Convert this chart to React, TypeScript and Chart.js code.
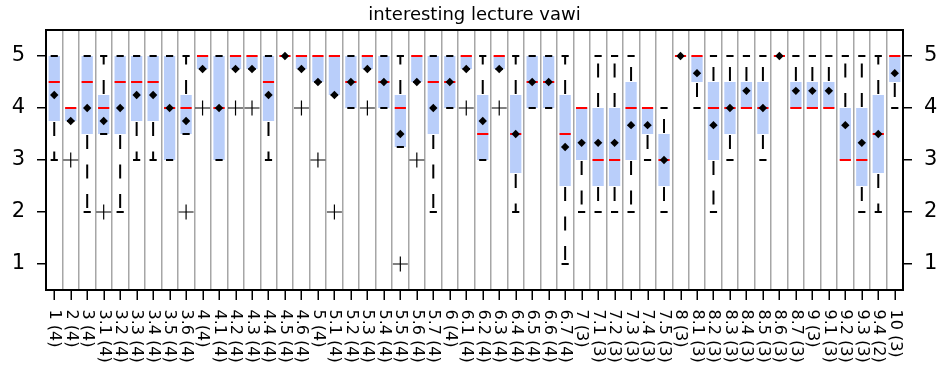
import React, { useEffect, useRef } from 'react';
import { Chart, registerables } from 'chart.js';

Chart.register(...registerables);

const TITLE = 'interesting lecture vawi';

const categories = [
  '1 (4)', '2 (4)', '3 (4)', '3.1 (4)', '3.2 (4)', '3.3 (4)', '3.4 (4)', '3.5 (4)', '3.6 (4)',
  '4 (4)', '4.1 (4)', '4.2 (4)', '4.3 (4)', '4.4 (4)', '4.5 (4)', '4.6 (4)',
  '5 (4)', '5.1 (4)', '5.2 (4)', '5.3 (4)', '5.4 (4)', '5.5 (4)', '5.6 (4)', '5.7 (4)',
  '6 (4)', '6.1 (4)', '6.2 (4)', '6.3 (4)', '6.4 (4)', '6.5 (4)', '6.6 (4)', '6.7 (4)',
  '7 (3)', '7.1 (3)', '7.2 (3)', '7.3 (3)', '7.4 (3)', '7.5 (3)',
  '8 (3)', '8.1 (3)', '8.2 (3)', '8.3 (3)', '8.4 (3)', '8.5 (3)', '8.6 (3)', '8.7 (3)',
  '9 (3)', '9.1 (3)', '9.2 (3)', '9.3 (3)', '9.4 (2)', '10 (3)',
];

const q1 = [
  3.75, 3.75, 3.5, 3.5, 3.5, 3.75, 3.75, 3, 3.5,
  4.75, 3, 4.75, 4.75, 3.75, 5, 4.75,
  4.5, 4.25, 4, 4.75, 4, 3.25, 4.5, 3.5,
  4, 4.75, 3, 4.75, 2.75, 4, 4, 2.5,
  3, 2.5, 2.5, 3, 3.5, 2.5,
  5, 4.5, 3, 3.5, 4, 3.5, 5, 4,
  4, 4, 3, 2.5, 2.75, 4.5,
];

const medians = [
  4.5, 4, 4.5, 4, 4.5, 4.5, 4.5, 4, 4,
  5, 4, 5, 5, 4.5, 5, 5,
  5, 5, 4.5, 5, 4.5, 4, 5, 4.5,
  4.5, 5, 3.5, 5, 3.5, 4.5, 4.5, 3.5,
  4, 3, 3, 4, 4, 3,
  5, 5, 4, 4, 4, 4, 5, 4,
  4, 4, 3, 3, 3.5, 5,
];

const q3 = [
  5, 4, 5, 4.25, 5, 5, 5, 5, 4.25,
  5, 5, 5, 5, 5, 5, 5,
  5, 5, 5, 5, 5, 4.25, 5, 5,
  5, 5, 4.25, 5, 4.25, 5, 5, 4.25,
  4, 4, 4, 4.5, 4, 3.5,
  5, 5, 4.5, 4.5, 4.5, 4.5, 5, 4.5,
  4.5, 4.5, 4, 4, 4.25, 5,
];

const whiskerLow = [
  3, 3.75, 2, 3.5, 2, 3, 3, 3, 3.5,
  4.75, 3, 4.75, 4.75, 3, 5, 4.75,
  4.5, 4.25, 4, 4.75, 4, 3.25, 4.5, 2,
  4, 4.75, 3, 4.75, 2, 4, 4, 1,
  2, 2, 2, 2, 3, 2,
  5, 4, 2, 3, 4, 3, 5, 4,
  4, 4, 3, 2, 2, 4,
];

const whiskerHigh = [
  5, 4, 5, 5, 5, 5, 5, 5, 5,
  5, 5, 5, 5, 5, 5, 5,
  5, 5, 5, 5, 5, 5, 5, 5,
  5, 5, 5, 5, 5, 5, 5, 5,
  4, 5, 5, 5, 4, 4,
  5, 5, 5, 5, 5, 5, 5, 5,
  5, 5, 5, 5, 5, 5,
];

const means = [
  4.25, 3.75, 4, 3.75, 4, 4.25, 4.25, 4, 3.75,
  4.75, 4, 4.75, 4.75, 4.25, 5, 4.75,
  4.5, 4.25, 4.5, 4.75, 4.5, 3.5, 4.5, 4,
  4.5, 4.75, 3.75, 4.75, 3.5, 4.5, 4.5, 3.25,
  3.33, 3.33, 3.33, 3.67, 3.67, 3,
  5, 4.67, 3.67, 4, 4.33, 4, 5, 4.33,
  4.33, 4.33, 3.67, 3.33, 3.5, 4.67,
];

const outlierCategories = [
  '2 (4)', '3.1 (4)', '3.6 (4)', '4 (4)', '4.2 (4)', '4.3 (4)', '4.6 (4)',
  '5 (4)', '5.1 (4)', '5.3 (4)', '5.5 (4)', '5.6 (4)', '6.1 (4)', '6.3 (4)',
];
const outlierValues = [3, 2, 2, 4, 4, 4, 4, 3, 2, 4, 1, 3, 4, 4];

const yTicks = [1, 2, 3, 4, 5];

const FONT = '"DejaVu Sans", sans-serif';
const BOX_COLOR = 'rgb(185, 206, 250)';

const extrasPlugin = {
  id: 'boxExtras',
  afterDatasetDraw(chart: any, args: any) {
    if (args.index !== 0) return;
    const { ctx } = chart;
    const x = chart.scales.x;
    const y = chart.scales.y;
    ctx.save();
    ctx.strokeStyle = '#000';
    ctx.lineWidth = 2;
    ctx.lineCap = 'butt';
    categories.forEach((_, i) => {
      const px = x.getPixelForValue(i);
      const whisker = (from: number, to: number) => {
        if (from === to) return;
        ctx.setLineDash([14, 15.5]);
        ctx.lineDashOffset = -1;
        ctx.beginPath();
        ctx.moveTo(px, y.getPixelForValue(from));
        ctx.lineTo(px, y.getPixelForValue(to));
        ctx.stroke();
      };
      whisker(q1[i], whiskerLow[i]);
      whisker(q3[i], whiskerHigh[i]);
      ctx.setLineDash([]);
      [whiskerLow[i], whiskerHigh[i]].forEach((v) => {
        const py = y.getPixelForValue(v);
        ctx.beginPath();
        ctx.moveTo(px - 3.6, py);
        ctx.lineTo(px + 3.6, py);
        ctx.stroke();
      });
    });
    ctx.restore();
  },
  afterDraw(chart: any) {
    const { ctx, chartArea: a } = chart;
    const x = chart.scales.x;
    ctx.save();
    // frame
    ctx.strokeStyle = '#000';
    ctx.lineWidth = 2;
    ctx.strokeRect(a.left, a.top, a.right - a.left, a.bottom - a.top);
    // x tick marks
    ctx.lineWidth = 1.5;
    categories.forEach((_, i) => {
      const px = Math.round(x.getPixelForValue(i)) + 0.25;
      ctx.beginPath();
      ctx.moveTo(px, a.bottom + 1);
      ctx.lineTo(px, a.bottom + 10);
      ctx.stroke();
    });
    // x labels (rotated, reading downward)
    ctx.fillStyle = '#000';
    ctx.font = `16px ${FONT}`;
    ctx.textAlign = 'left';
    ctx.textBaseline = 'middle';
    categories.forEach((lab, i) => {
      const px = x.getPixelForValue(i);
      ctx.save();
      ctx.translate(px, a.bottom + 19.5);
      ctx.rotate(Math.PI / 2);
      ctx.fillText(lab, 0, 0);
      ctx.restore();
    });
    // title
    ctx.font = `18px ${FONT}`;
    ctx.textAlign = 'center';
    ctx.textBaseline = 'alphabetic';
    ctx.fillText(TITLE, (a.left + a.right) / 2, 20);
    ctx.restore();
  },
};

export default function App() {
  const canvasRef = useRef<HTMLCanvasElement | null>(null);

  useEffect(() => {
    const canvas = canvasRef.current;
    if (!canvas) return;

    const yAxisCommon = {
      type: 'linear' as const,
      min: 0.5,
      max: 5.5,
      afterBuildTicks: (s: any) => {
        s.ticks = yTicks.map((v) => ({ value: v }));
      },
      grid: {
        drawOnChartArea: false,
        drawTicks: true,
        tickLength: 9,
        color: '#000',
        lineWidth: 1.5,
      },
      border: { display: false },
      ticks: {
        color: '#000',
        padding: 12,
        font: { family: FONT, size: 21 },
      },
    };

    const chart = new Chart(canvas, {
      type: 'bar',
      data: {
        labels: categories,
        datasets: [
          {
            type: 'bar',
            label: 'box',
            data: categories.map((_, i) => [q1[i], q3[i]]) as any,
            backgroundColor: BOX_COLOR,
            borderWidth: 0,
            barPercentage: 0.686,
            categoryPercentage: 1,
            order: 4,
          },
          {
            type: 'line',
            label: 'median',
            data: medians,
            showLine: false,
            pointStyle: 'line',
            pointRadius: 5.6,
            pointHoverRadius: 5.6,
            pointBorderColor: '#ff0000',
            pointBackgroundColor: '#ff0000',
            pointBorderWidth: 2,
            order: 3,
          } as any,
          {
            type: 'line',
            label: 'mean',
            data: means,
            showLine: false,
            pointStyle: 'rectRot',
            pointRadius: 4.2,
            pointHoverRadius: 4.2,
            pointBorderColor: '#000',
            pointBackgroundColor: '#000',
            pointBorderWidth: 0,
            order: 2,
          } as any,
          {
            type: 'line',
            label: 'outliers',
            data: outlierCategories.map((c, i) => ({ x: c, y: outlierValues[i] })),
            showLine: false,
            pointStyle: 'cross',
            pointRadius: 7.5,
            pointHoverRadius: 7.5,
            pointBorderColor: '#000',
            pointBackgroundColor: '#000',
            pointBorderWidth: 1.2,
            order: 1,
          } as any,
        ],
      },
      options: {
        animation: false,
        responsive: true,
        maintainAspectRatio: false,
        events: [],
        layout: { padding: { top: 30, left: 0, right: 0, bottom: 0 } },
        plugins: {
          legend: { display: false },
          tooltip: { enabled: false },
          title: { display: false },
        },
        scales: {
          x: {
            type: 'category',
            offset: true,
            grid: {
              offset: true,
              drawTicks: false,
              color: '#a6a6a6',
              lineWidth: 1.5,
            },
            border: { display: false },
            ticks: { display: false },
            afterFit: (s: any) => {
              s.height = 91;
            },
          },
          y: {
            ...yAxisCommon,
            position: 'left',
            afterFit: (s: any) => {
              s.width = 46;
            },
          },
          y2: {
            ...yAxisCommon,
            position: 'right',
            afterFit: (s: any) => {
              s.width = 40;
            },
          },
        } as any,
      },
      plugins: [extrasPlugin],
    });

    return () => chart.destroy();
  }, []);

  return (
    <div style={{ position: 'fixed', left: 0, top: 0, width: 943, height: 381, background: '#fff' }}>
      <canvas ref={canvasRef} />
    </div>
  );
}
